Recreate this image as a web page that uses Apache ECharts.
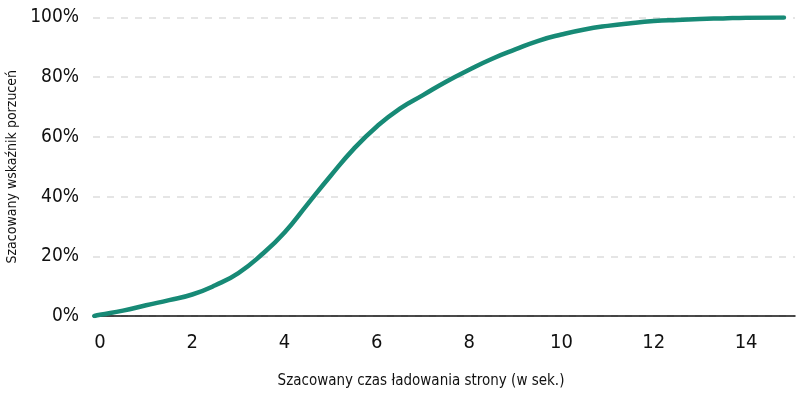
<!DOCTYPE html>
<html>
  <head>
    <meta charset="UTF-8">
    <title>Szacowany wskaźnik porzuceń</title>
    <script src="https://cdn.jsdelivr.net/npm/echarts@6/dist/echarts.min.js"></script>
    <style>
      html, body { margin: 0; padding: 0; background: #fff; }
      #chart { width: 800px; height: 397px; }
    </style>
  </head>
  <body>
    <div id="chart"></div>
    <script>
// load time in seconds, estimated abandonment rate in %
const loadTimes = [-0.12, 0, 0.5, 1, 1.5, 2, 2.5, 3, 3.5, 4, 4.5, 5, 5.5, 6, 6.5, 7, 7.5, 8, 8.5, 9, 9.5, 10, 10.5, 11, 11.5, 12, 12.5, 13, 13.5, 14, 14.82];
const abandonRates = [0, 0.4, 1.8, 3.6, 5.3, 7.2, 10.3, 14.4, 20.5, 28, 37.5, 47, 56, 63.5, 69.5, 74, 78.5, 82.5, 86.2, 89.3, 92.2, 94.3, 96, 97.2, 98.1, 98.8, 99.2, 99.5, 99.7, 99.9, 100];
const xTicks = [0, 2, 4, 6, 8, 10, 12, 14];
const yTicks = [0, 20, 40, 60, 80, 100];

const FONT = '"DejaVu Sans Condensed", "Liberation Sans Narrow", sans-serif';

var chart = echarts.init(document.getElementById('chart'), null, {renderer: 'canvas'});

chart.setOption({
  animation: false,
  grid: {left: 93, right: 5, top: 17.5, bottom: 81, containLabel: false, outerBoundsMode: 'none'},
  xAxis: {
    type: 'value',
    min: -0.15,
    max: 15.06,
    name: 'Szacowany czas ładowania strony (w sek.)',
    nameLocation: 'middle',
    nameGap: 58,
    nameTextStyle: {fontFamily: FONT, fontSize: 15, color: '#111', padding: [0, 46, 0, 0]},
    axisLine: {show: true, lineStyle: {color: '#111', width: 1.5}},
    axisTick: {show: false},
    splitLine: {show: false},
    axisLabel: {
      customValues: xTicks,
      margin: 17,
      fontFamily: FONT,
      fontSize: 20,
      color: '#111'
    }
  },
  yAxis: {
    type: 'value',
    min: 0,
    max: 100,
    interval: 20,
    name: 'Szacowany wskaźnik porzuceń',
    nameLocation: 'middle',
    nameGap: 70,
    nameTextStyle: {fontFamily: FONT, fontSize: 14, color: '#111'},
    axisLine: {show: false},
    axisTick: {show: false},
    splitLine: {lineStyle: {color: '#dddddd', type: [7, 7], width: 1.5}},
    axisLabel: {
      customValues: yTicks,
      margin: 14,
      fontFamily: FONT,
      fontSize: 19,
      color: '#111',
      formatter: '{value}%'
    }
  },
  series: [{
    type: 'line',
    data: loadTimes.map((t, i) => [t, abandonRates[i]]),
    smooth: true,
    showSymbol: false,
    lineStyle: {color: '#178a76', width: 4.5, cap: 'round'},
    z: 3
  }]
});
    </script>
  </body>
</html>
